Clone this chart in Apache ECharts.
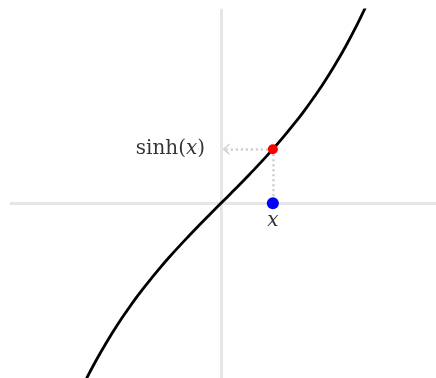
<!DOCTYPE html>
<html>
	<head>
		<meta charset="utf-8" />
		<title>sinh</title>
		<style>
			html, body { margin: 0; padding: 0; background: #fff; }
			#chart { width: 436px; height: 378px; }
		</style>
	</head>
	<body>
		<div id="chart"></div>
		<script src="https://cdn.jsdelivr.net/npm/echarts@6/dist/echarts.min.js" type="text/javascript" charset="utf-8"></script>
		<script type="text/javascript">
			// curve
			var curveX = [-1.3, -1.2, -1.1, -1.0, -0.9, -0.8, -0.7, -0.6, -0.5, -0.4, -0.3, -0.2, -0.1, 0,
				0.1, 0.2, 0.3, 0.4, 0.5, 0.6, 0.7, 0.8, 0.9, 1.0, 1.1, 1.2, 1.3, 1.4];
			var curveY = [-1.698, -1.509, -1.336, -1.175, -1.027, -0.888, -0.759, -0.637, -0.521, -0.411, -0.305, -0.201, -0.100, 0,
				0.100, 0.201, 0.305, 0.411, 0.521, 0.637, 0.759, 0.888, 1.027, 1.175, 1.336, 1.509, 1.698, 1.904];

			// marked point
			var pointX = 0.5;
			var pointY = 0.521;
			var arrowTipX = 0.05;

			// labels
			var xLabel = 'x';
			var yLabelFn = 'sinh(';

			var curve = [];
			for (var i = 0; i < curveX.length; i++) {
				curve.push([curveX[i], curveY[i]]);
			}

			var guideStyle = { color: '#cccccc', width: 2.5, type: [2, 3], cap: 'butt' };
			var axisStyle = { show: true, onZero: true, lineStyle: { color: '#e6e6e6', width: 3 } };
			var mathFont = { fontFamily: 'DejaVu Serif', fontSize: 20, color: '#000', textBorderWidth: 0 };
			var mathItalic = Object.assign({}, mathFont, { fontStyle: 'italic' });

			var myChart = echarts.init(document.getElementById('chart'));
			myChart.setOption({
				animation: false,
				grid: { left: 11, right: 0, top: 10, bottom: 0, outerBoundsMode: 'none' },
				xAxis: {
					type: 'value', min: -2.02, max: 2.07,
					axisLine: axisStyle, axisTick: { show: false },
					axisLabel: { show: false }, splitLine: { show: false }
				},
				yAxis: {
					type: 'value', min: -1.68, max: 1.86,
					axisLine: axisStyle, axisTick: { show: false },
					axisLabel: { show: false }, splitLine: { show: false }
				},
				series: [
					{
						// dotted guides, kept under the points
						type: 'line',
						data: [],
						silent: true,
						markLine: {
							silent: true,
							z: 1,
							symbol: ['none', 'none'],
							label: { show: false },
							lineStyle: guideStyle,
							emphasis: { disabled: true },
							data: [
								[{ coord: [pointX, pointY], symbol: 'none' }, { coord: [pointX, 0], symbol: 'none' }],
								[{ coord: [pointX, pointY], symbol: 'none' },
								 { coord: [arrowTipX, pointY], symbol: 'path://M6,0 L12,7 L10.4,7 L6,2.2 L1.6,7 L0,7 Z', symbolSize: [12, 7] }]
							]
						}
					},
					{
						type: 'line',
						data: curve,
						smooth: true,
						showSymbol: false,
						silent: true,
						z: 3,
						lineStyle: { color: '#000', width: 2.8 }
					},
					{
						type: 'scatter',
						data: [[pointX, 0]],
						symbolSize: 12,
						z: 4,
						itemStyle: { color: '#0000ff', opacity: 1 },
						silent: true
					},
					{
						type: 'scatter',
						data: [[pointX, pointY]],
						symbolSize: 10,
						z: 5,
						itemStyle: { color: '#ff0000', opacity: 1 },
						silent: true
					},
					{
						// text labels
						type: 'scatter',
						data: [
							{ value: [pointX, 0], label: { position: 'bottom', distance: 7, formatter: '{i|' + xLabel + '}' } },
							{ value: [arrowTipX, pointY], label: { position: 'left', distance: 21, formatter: '{n|' + yLabelFn + '}{i|' + xLabel + '}{n|)}' } }
						],
						symbolSize: 0,
						silent: true,
						z: 6,
						label: {
							show: true,
							rich: { n: mathFont, i: mathItalic }
						}
					}
				]
			});
		</script>
	</body>
</html>
